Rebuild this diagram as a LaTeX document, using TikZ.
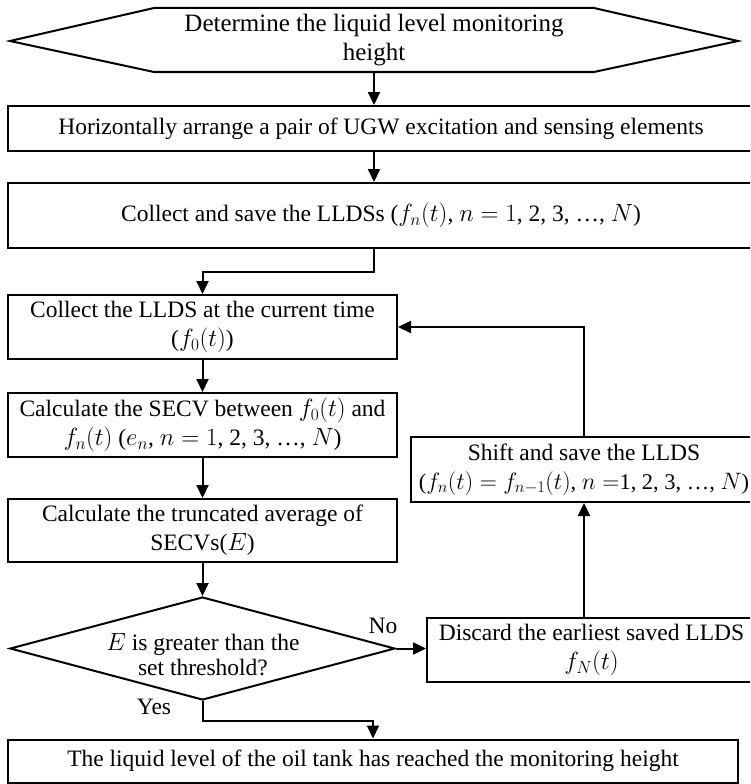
\documentclass[tikz,border=0pt]{standalone}
\usepackage{fontspec}
\setmainfont{Liberation Serif}
\usetikzlibrary{shapes.geometric,arrows.meta,calc}
\begin{document}
\begin{tikzpicture}[x=1pt,y=-1pt,
  every node/.style={font=\fontsize{23.5}{29}\selectfont},
  box/.style={draw,line width=2pt,rectangle,inner sep=0pt,align=center},
  arr/.style={line width=2pt,-{Triangle[length=13pt,width=12pt]}},
  shapeline/.style={line width=2pt,line join=miter},
  lbl/.style={inner sep=0pt,align=center}]
\useasboundingbox (0,0) rectangle (750,784);
\clip (0,0) rectangle (750,784);
% start hexagon
\draw[shapeline] (10,41) -- (154,8) -- (594,8) -- (738,41) -- (594,72) -- (154,72) -- cycle;
\node[lbl,minimum height=64pt,minimum width=430pt,font=\fontsize{25}{29}\selectfont] (hex) at (374,40) {Determine the liquid level monitoring\\height};
% boxes
\node[box,minimum width=746pt,minimum height=45pt] (b2) at (381,128.5) {Horizontally arrange a pair of UGW excitation and sensing elements};
\node[box,minimum width=746pt,minimum height=65pt] (b3) at (381,215.5) {Collect and save the LLDSs ($f_n(t)$, $n = 1$, 2, 3, \dots, $N$)};
\node[box,minimum width=389pt,minimum height=64pt] (b4) at (202.5,327) {Collect the LLDS at the current time\\($f_0(t)$)};
\node[box,minimum width=389pt,minimum height=64pt] (b5) at (202.5,425) {Calculate the SECV between $f_0(t)$ and\\$f_n(t)$ ($e_n$, $n = 1$, 2, 3, \dots, $N$)};
\node[box,minimum width=389pt,minimum height=63pt] (b6) at (202.5,530.5) {Calculate the truncated average of\\SECVs($E$)};
\node[draw,diamond,line width=2pt,minimum width=385pt,minimum height=103pt,inner sep=0pt] (d) at (202.5,648.5) {};
\node[lbl] (dq) at (203,655) {$E$ is greater than the\\[-4pt]set threshold?};
\node[box,minimum width=329pt,minimum height=64pt] (b7) at (591.5,650) {Discard the earliest saved LLDS\\$f_N(t)$};
\node[box,minimum width=346pt,minimum height=65pt] (b8) at (584,469.5) {Shift and save the LLDS\\\scalebox{0.955}{($f_n(t) = f_{n-1}(t)$, $n =$1, 2, 3, \dots, $N$)}};
\node[box,minimum width=730pt,minimum height=43pt] (b9) at (373,761) {The liquid level of the oil tank has reached the monitoring height};
% labels
\node[lbl] (no) at (383,626) {No};
\node[lbl] (yes) at (154,707) {Yes};
% connectors
\draw[arr] (hex.south) -- (hex.south |- b2.north);
\draw[arr] (b2.south -| hex.south) -- (b3.north -| hex.south);
\draw[arr] (b3.south -| hex.south) -- ++(0,23) -| (b4.north);
\draw[arr] (b4.south) -- (b5.north);
\draw[arr] (b5.south) -- (b6.north);
\draw[arr] (b6.south) -- (d.north);
\draw[arr] (d.east) -- (d.east -| b7.west);
\draw[arr] (b8.south |- b7.north) -- (b8.south);
\draw[arr] (b8.north) |- (b4.east);
\draw[arr] (d.south) -- ++(0,20) -| (b9.north);
\end{tikzpicture}
\end{document}
